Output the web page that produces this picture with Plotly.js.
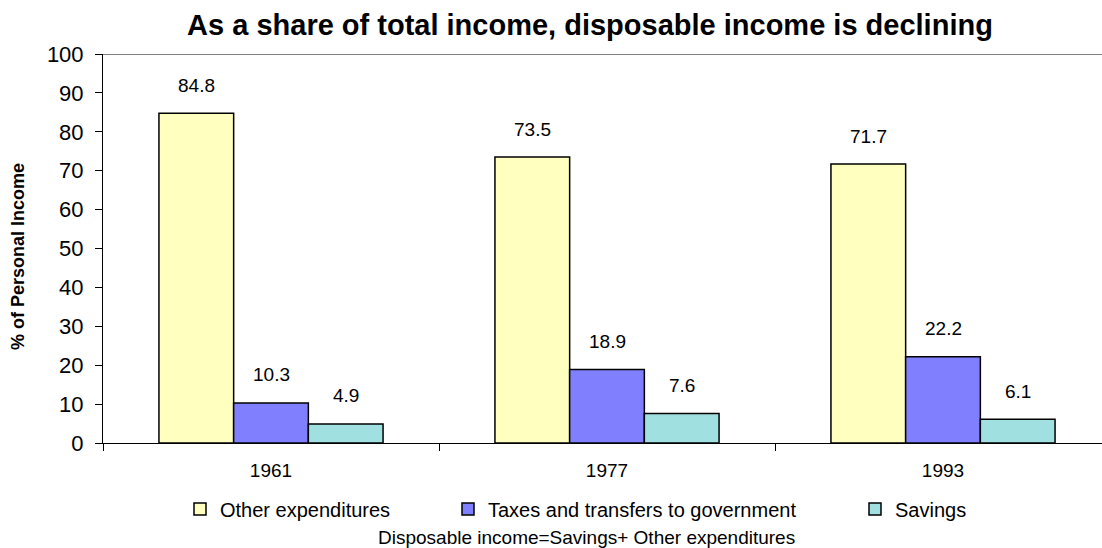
<!DOCTYPE html>
<html>
<head>
<meta charset="utf-8">
<script src="https://cdn.plot.ly/plotly-3.0.1.min.js"></script>
<style>
html,body{margin:0;padding:0;overflow:hidden;background:#fff;}
#chart{width:1112px;height:548px;}
</style>
</head>
<body>
<div id="chart"></div>
<script>
const years = ["1961", "1977", "1993"];
const otherExpenditures = [84.8, 73.5, 71.7];
const taxesTransfers = [10.3, 18.9, 22.2];
const savings = [4.9, 7.6, 6.1];
const seriesNames = ["Other expenditures", "Taxes and transfers to government", "Savings"];
const seriesColors = ["#FFFFC0", "#8080FF", "#A0E0E0"];
const titleText = "As a share of total income, disposable income is declining";
const yTitle = "% of Personal Income";
const caption = "Disposable income=Savings+ Other expenditures";

const W = 1112, H = 548;
const allSeries = [otherExpenditures, taxesTransfers, savings];
const legendIds = ["legend", "legend2", "legend3"];
const legendX = [180, 448, 855];
const FONT = "Arial, 'Liberation Sans', sans-serif";

const traces = allSeries.map((vals, i) => ({
  type: "bar",
  name: seriesNames[i],
  x: years,
  y: vals,
  marker: {color: seriesColors[i], line: {color: "#000", width: 1.5}},
  legend: legendIds[i],
  hoverinfo: "x+y+name"
}));

const barPx = 75;
const annotations = [];
allSeries.forEach((vals, i) => {
  vals.forEach((v, j) => {
    annotations.push({
      x: j, y: v, xref: "x", yref: "y",
      text: String(v), showarrow: false,
      xshift: (i - 1) * barPx, yshift: 28, yanchor: "middle",
      font: {family: FONT, size: 19, color: "#000"}
    });
  });
});
annotations.push({
  xref: "paper", yref: "paper", x: (18 - 103) / 1008, y: (443 - 257) / 389,
  text: "<b>" + yTitle + "</b>", textangle: -90, showarrow: false,
  xanchor: "center", yanchor: "middle",
  font: {family: FONT, size: 18, color: "#000"}
});
annotations.push({
  xref: "paper", yref: "paper", x: (586 - 103) / 1008, y: -(537 - 443) / 389,
  text: caption, showarrow: false, xanchor: "center", yanchor: "middle",
  font: {family: FONT, size: 19, color: "#000"}
});

const legendBase = {
  orientation: "h", xref: "container", yref: "container",
  y: 1 - 509 / H, yanchor: "middle", xanchor: "left",
  bgcolor: "rgba(0,0,0,0)", borderwidth: 0,
  font: {family: FONT, size: 20, color: "#000"}
};

const layout = {
  width: W, height: H,
  margin: {l: 103, r: 1, t: 54, b: 105},
  paper_bgcolor: "#fff", plot_bgcolor: "#fff",
  showlegend: true,
  barmode: "group", bargap: 0.333, bargroupgap: 0,
  title: {
    text: "<b>" + titleText + "</b>",
    xref: "paper", x: (590 - 103) / 1008, xanchor: "center",
    yref: "container", y: 1 - 25 / H, yanchor: "middle",
    font: {family: FONT, size: 29, color: "#000"}
  },
  xaxis: {
    type: "category", range: [-0.5, years.length - 0.5], autorange: false,
    tickson: "boundaries", ticks: "outside", ticklen: 7,
    tickcolor: "#000", showline: true, linecolor: "#000", linewidth: 1,
    showgrid: false, zeroline: false, ticklabelstandoff: 10, tickangle: 0,
    tickfont: {family: FONT, size: 19, color: "#000"}
  },
  yaxis: {
    range: [0, 100], autorange: false, dtick: 10, ticks: "outside", ticklen: 7, tickcolor: "#000",
    showline: true, linecolor: "#000", linewidth: 1, showgrid: false, zeroline: false,
    ticklabelstandoff: 7,
    tickfont: {family: FONT, size: 22, color: "#000"}
  },
  shapes: [{
    type: "line", xref: "paper", yref: "y", x0: 0, x1: 1, y0: 100, y1: 100,
    line: {color: "#000", width: 1}
  }],
  annotations: annotations,
  legend: Object.assign({}, legendBase, {x: legendX[0] / W}),
  legend2: Object.assign({}, legendBase, {x: legendX[1] / W}),
  legend3: Object.assign({}, legendBase, {x: legendX[2] / W})
};

Plotly.newPlot("chart", traces, layout, {displayModeBar: false, staticPlot: true});
</script>
</body>
</html>
